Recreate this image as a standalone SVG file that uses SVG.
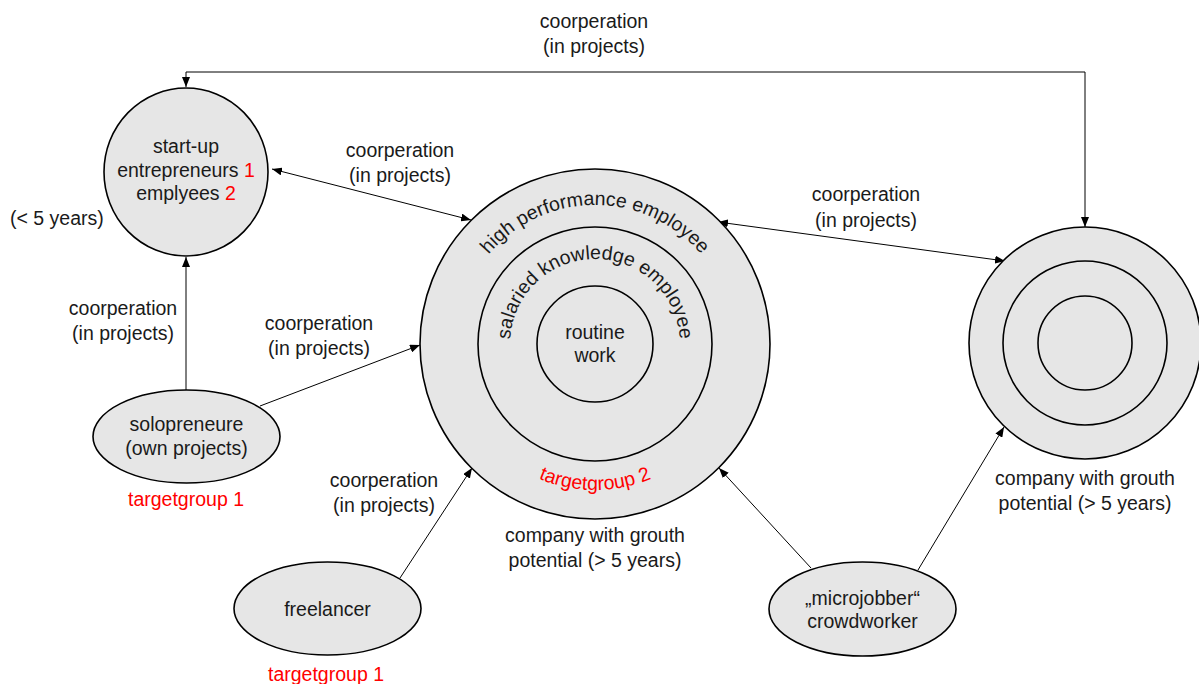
<svg xmlns="http://www.w3.org/2000/svg" width="1199" height="684" viewBox="0 0 1199 684">
<style>
text{font-family:"Liberation Sans",Arial,sans-serif;font-size:19.5px;fill:#1a1a1a;text-anchor:middle}
.red{fill:#ff0000}
.shape{fill:#e6e6e6;stroke:#000;stroke-width:1.6}
.ring{fill:none;stroke:#000;stroke-width:1.6}
.con{fill:none;stroke:#000;stroke-width:1}
</style>
<defs>
<marker id="ah" viewBox="0 0 10 8" refX="10" refY="4" markerWidth="10" markerHeight="8" markerUnits="userSpaceOnUse" orient="auto-start-reverse">
<path d="M0,0 L10,4 L0,8 z" fill="#000"/>
</marker>
<path id="arcOuter" d="M 456 344 A 139 139 0 0 1 734 344"/>
<path id="arcMid" d="M 510 344 A 85 85 0 0 1 680 344"/>
<path id="arcBottom" d="M 449 344 A 146 146 0 0 0 741 344"/>
</defs>

<g id="connectors">
<path class="con" d="M 1085 227 L 1085 72 L 186 72 L 186 87" marker-start="url(#ah)" marker-end="url(#ah)"/>
<line class="con" x1="272" y1="169" x2="471" y2="220" marker-start="url(#ah)" marker-end="url(#ah)"/>
<line class="con" x1="718" y1="222" x2="1005" y2="261" marker-start="url(#ah)" marker-end="url(#ah)"/>
<line class="con" x1="186" y1="390" x2="186" y2="257" marker-end="url(#ah)"/>
<line class="con" x1="260" y1="406" x2="420" y2="345" marker-end="url(#ah)"/>
<line class="con" x1="400" y1="578" x2="472" y2="468" marker-end="url(#ah)"/>
<line class="con" x1="811" y1="568" x2="719" y2="468" marker-end="url(#ah)"/>
<line class="con" x1="918" y1="570" x2="1004" y2="427" marker-end="url(#ah)"/>
<text x="594" y="28">coorperation</text>
<text x="594" y="53">(in projects)</text>
<text x="400" y="157">coorperation</text>
<text x="400" y="182">(in projects)</text>
<text x="866" y="201">coorperation</text>
<text x="866" y="227">(in projects)</text>
<text x="123" y="315">coorperation</text>
<text x="123" y="340">(in projects)</text>
<text x="319" y="330">coorperation</text>
<text x="319" y="355">(in projects)</text>
<text x="384" y="487">coorperation</text>
<text x="384" y="512">(in projects)</text>
</g>

<g id="startup">
<ellipse class="shape" cx="186" cy="172" rx="82" ry="84"/>
<text x="186" y="153">start-up</text>
<text x="186" y="176.5">entrepreneurs <tspan class="red">1</tspan></text>
<text x="186" y="200">emplyees <tspan class="red">2</tspan></text>
<text x="10" y="225" style="text-anchor:start">(&lt; 5 years)</text>
</g>

<g id="company-center">
<circle class="shape" cx="595" cy="344" r="175"/>
<circle class="ring" cx="595" cy="344" r="117"/>
<circle class="ring" cx="595" cy="344" r="58"/>
<text><textPath href="#arcOuter" startOffset="50%">high performance employee</textPath></text>
<text><textPath href="#arcMid" startOffset="50%">salaried knowledge employee</textPath></text>
<text x="595" y="339">routine</text>
<text x="595" y="362">work</text>
<text class="red"><textPath href="#arcBottom" startOffset="50%">targetgroup 2</textPath></text>
<text x="595" y="542">company with grouth</text>
<text x="595" y="567">potential (&gt; 5 years)</text>
</g>

<g id="company-right">
<circle class="shape" cx="1085" cy="343" r="116"/>
<circle class="ring" cx="1085" cy="343" r="82"/>
<circle class="ring" cx="1085" cy="343" r="47"/>
<text x="1085" y="485">company with grouth</text>
<text x="1085" y="510">potential (&gt; 5 years)</text>
</g>

<g id="solopreneure">
<ellipse class="shape" cx="186.5" cy="436.5" rx="93.5" ry="46.5"/>
<text x="186.5" y="431">solopreneure</text>
<text x="186.5" y="455">(own projects)</text>
<text class="red" x="186" y="506">targetgroup 1</text>
</g>

<g id="freelancer">
<ellipse class="shape" cx="327.5" cy="608.5" rx="93.5" ry="46.5"/>
<text x="327.5" y="616">freelancer</text>
<text class="red" x="326" y="681">targetgroup 1</text>
</g>

<g id="microjobber">
<ellipse class="shape" cx="862.5" cy="609" rx="93.5" ry="47"/>
<text x="862.5" y="605">„microjobber“</text>
<text x="862.5" y="628">crowdworker</text>
</g>
</svg>
